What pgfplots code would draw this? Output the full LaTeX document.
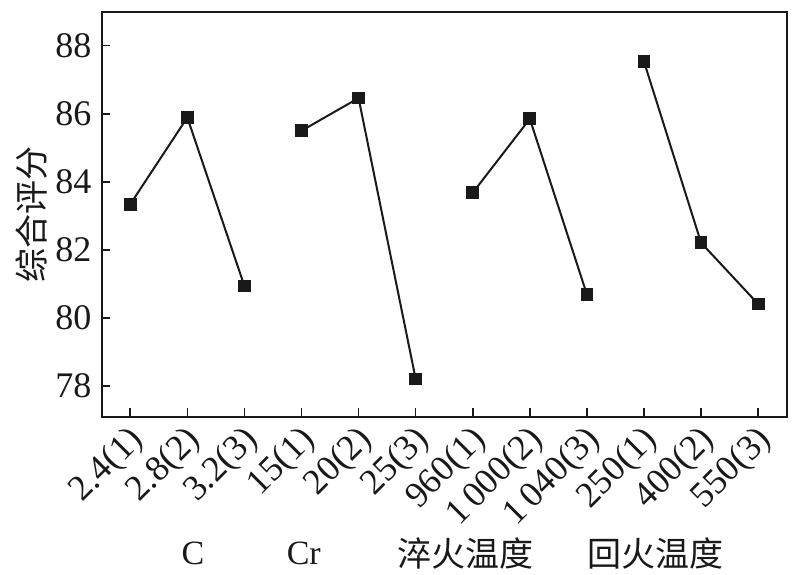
\documentclass[border=0pt]{standalone}
\usepackage{pgfplots}
\pgfplotsset{compat=1.18}
\usepackage{fontspec}
\setmainfont{Liberation Serif}
\newfontfamily\cjk{Noto Sans CJK SC}

% one reference pixel = 0.5bp
\pgfplotsset{
    factor/.style={black!90, line width=1bp, mark=square*,
        mark size=2.7bp, mark options={solid, fill=black!90}},
}
\begin{document}
\begin{tikzpicture}
\begin{axis}[
    scale only axis,
    width=342.5bp, height=202.2bp,
    xmin=-0.5, xmax=11.5,
    ymin=77.1, ymax=88.98,
    ytick={78,80,82,84,86,88},
    xtick={0,...,11},
    xticklabels={2.4(1),2.8(2),3.2(3),15(1),20(2),25(3),960(1),1\,000(2),1\,040(3),250(1),400(2),550(3)},
    xtick pos=bottom, ytick pos=left,
    tick align=inside,
    major tick length=4.3bp,
    axis line style={line width=1bp, black!90},
    every tick/.style={line width=0.8bp, black!90},
    tick label style={font=\fontsize{18bp}{20bp}\selectfont, text=black!90},
    /pgf/number format/assume math mode=true,
    xticklabel style={rotate=45, anchor=north east, inner sep=1bp, xshift=-2.5bp},
    yticklabel style={inner sep=1bp, xshift=-4bp},
    ylabel={\cjk 综合评分},
    ylabel style={font=\fontsize{17bp}{20bp}\selectfont, text=black!90,
        at={(rel axis cs:0,0.5)}, anchor=center, yshift=35bp},
    clip=false,
]
% C
\addplot[factor] coordinates {(0,83.34) (1,85.89) (2,80.94)};
% Cr
\addplot[factor] coordinates {(3,85.50) (4,86.46) (5,78.21)};
% quenching temperature
\addplot[factor] coordinates {(6,83.68) (7,85.85) (8,80.69)};
% tempering temperature
\addplot[factor] coordinates {(9,87.53) (10,82.21) (11,80.41)};

\begin{scope}[every node/.style={font=\fontsize{17bp}{20bp}\selectfont, text=black!90, anchor=base}]
\node at ([yshift=-74bp]axis cs:1.1,77.1) {C};
\node at ([yshift=-74bp]axis cs:3.04,77.1) {Cr};
\node at ([yshift=-75bp]axis cs:5.87,77.1) {\cjk 淬火温度};
\node at ([yshift=-75bp]axis cs:9.2,77.1) {\cjk 回火温度};
\end{scope}
\end{axis}
\pgfresetboundingbox
\path[use as bounding box] ([xshift=-50.85bp,yshift=-79.15bp]current axis.south west)
    rectangle ([xshift=9.15bp,yshift=6.15bp]current axis.north east);
\end{tikzpicture}
\end{document}
